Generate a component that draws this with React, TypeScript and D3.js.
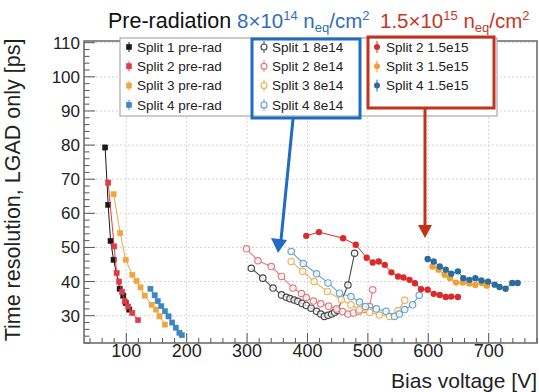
import * as d3 from 'd3'

// ---- data: [bias voltage V, time resolution ps] ----
const split1Pre = [[65, 79.3], [70, 62.5], [74, 51.9], [79, 46.4], [89, 37.9], [95, 35.9], [99, 33.7], [105, 31.8]]
const split2Pre = [[70, 69], [80, 50.3], [84, 42.5], [88, 40], [93, 37], [97.5, 34.2], [103, 32.7], [110, 30.8], [119.5, 28.7]]
const split3Pre = [[79, 65.6], [90, 54.2], [99, 46.4], [110, 42], [117, 40.2], [123.5, 38.3], [130.5, 35.9], [142, 33.2], [149, 31.8], [155, 29.8], [164, 27.4]]
const split4Pre = [[140, 37.9], [147, 36], [152, 34.3], [158, 32.8], [164, 31.3], [170, 29.8], [176, 28], [182, 26.5], [188, 25], [192, 24.3]]

const split1Mid = [[307, 43.9], [326, 41], [343, 38.1], [357, 36.1], [365, 35.4], [371, 35], [378, 34.6], [384, 34.2], [391, 33.6], [398, 33], [406, 32.2], [415, 31.3], [422, 30.5], [428, 29.8], [434, 30.1], [440, 30.5], [445, 31], [450, 31.5], [467, 39], [478, 48.3]]
const split2Mid = [[299, 49.6], [318, 46.1], [340, 44.4], [357, 41.5], [376, 38.1], [390, 36.5], [398, 35.3], [410, 34.3], [422, 33.5], [435, 32.8], [448, 32], [458, 31.2], [467, 30.5], [476, 30.8], [485, 31.3], [495, 31.8], [503, 32.7], [508, 37.6]]
const split3Mid = [[373, 45.9], [392, 43], [411, 40], [433, 37.1], [456, 34.7], [472, 33.2], [486, 31.8], [503, 31], [519, 30.2], [536, 29.8], [550, 31.5], [561, 34.5]]
const split4Mid = [[373, 48.8], [393, 45.3], [415, 42.3], [434, 39.6], [453, 36.6], [472, 35.6], [486, 34], [496, 32.7], [514, 32], [530, 31.3], [544, 29.8], [552, 30.5], [561, 31.8], [574, 33.2], [585, 36]]

const split2High = [[398, 53.4], [419, 54.5], [459, 52.7], [480, 50.8], [498, 47], [508, 45.6], [518, 45.9], [528, 44.9], [539, 42.7], [550, 41.5], [559, 41.2], [569, 40.5], [578, 39.5], [588, 37.8], [599, 37.6], [609, 36.4], [619, 36.1], [629, 35.5], [638, 35.6], [649, 35.5]]
const split3High = [[607, 44.4], [617, 43.5], [627, 42], [636, 41], [646, 39.7], [657, 39.7], [668, 39.4], [678, 39], [689, 39.6], [697, 38.8]]
const split4High = [[599, 46.6], [609, 45.9], [619, 44.4], [629, 43.5], [638, 42.3], [649, 43], [658, 41], [668, 40.5], [678, 41], [688, 40.3], [699, 40], [710, 39.1], [718, 38.4], [728, 37.9], [739, 39.6], [748, 39.6]]

const xTicks = [100, 200, 300, 400, 500, 600, 700]
const yTicks = [30, 40, 50, 60, 70, 80, 90, 100, 110]

const preLabels = ['Split 1 pre-rad', 'Split 2 pre-rad', 'Split 3 pre-rad', 'Split 4 pre-rad']
const midLabels = ['Split 1 8e14', 'Split 2 8e14', 'Split 3 8e14', 'Split 4 8e14']
const highLabels = ['Split 2 1.5e15', 'Split 3 1.5e15', 'Split 4 1.5e15']

const preColors = ['#1a1a1a', '#e23b44', '#f0a53e', '#3a86c2']
const midColors = ['#4a4a4a', '#e07c80', '#eab45e', '#6da6cf']
const highColors = ['#dc2a2a', '#f0a030', '#2b6c9f']

const width = 539
const height = 392
const font = '"Liberation Sans", Arial, Helvetica, sans-serif'

const xScale = d3.scaleLinear().domain([30, 780]).range([84, 537])
const yScale = d3.scaleLinear().domain([22, 110.5]).range([343, 41])

const line = d3
  .line<number[]>()
  .x((d) => xScale(d[0]))
  .y((d) => yScale(d[1]))

const preSeries = [split1Pre, split2Pre, split3Pre, split4Pre]
const midSeries = [split1Mid, split2Mid, split3Mid, split4Mid]
const highSeries = [split2High, split3High, split4High]

const Square = ({ x, y, c }: { x: number; y: number; c: string }) => (
  <rect x={x - 2.6} y={y - 2.6} width={5.2} height={5.2} fill={c} stroke={c} strokeWidth={0.5} />
)

// "n_eq/cm^2" style title piece
const Fluence = ({ x, mant, exp, color }: { x: number; mant: string; exp: string; color: string }) => (
  <text x={x} y={28} fontSize={20.5} fill={color}>
    {mant}×10<tspan fontSize={13} dy={-8}>{exp}</tspan>
    <tspan dy={8}> n</tspan>
    <tspan fontSize={13} dy={4}>eq</tspan>
    <tspan dy={-4}>/cm</tspan>
    <tspan fontSize={13} dy={-8}>2</tspan>
  </text>
)

const App = () => {
  const [x0, x1] = xScale.range()
  const [y0, y1] = yScale.range()
  const xMinor = d3.range(40, 781, 20)
  const yMinor = d3.range(22, 111, 2)

  return (
    <svg width={width} height={height} style={{ position: 'absolute', left: 0, top: 0, background: '#fff' }} fontFamily={font}>
      {/* title */}
      <text x={108} y={28} fontSize={21.5} fill="#111">Pre-radiation</text>
      <Fluence x={237} mant="8" exp="14" color="#2f6fb8" />
      <Fluence x={380} mant="1.5" exp="15" color="#c8371f" />

      {/* grid */}
      {xTicks.map((t) => (
        <line key={'gx' + t} x1={xScale(t)} x2={xScale(t)} y1={y0} y2={y1} stroke="#c8c8c8" strokeDasharray="1.5,2.5" />
      ))}
      {yTicks.map((t) => (
        <line key={'gy' + t} x1={x0} x2={x1} y1={yScale(t)} y2={yScale(t)} stroke="#c8c8c8" strokeDasharray="1.5,2.5" />
      ))}

      {/* ticks */}
      {xMinor.map((t) => (
        <line key={'mx' + t} x1={xScale(t)} x2={xScale(t)} y1={y0} y2={y0 - (t % 100 === 0 ? 10 : 5)} stroke="#555" />
      ))}
      {yMinor.map((t) => (
        <line key={'my' + t} x1={x0} x2={x0 + (t % 10 === 0 ? 11 : 5.5)} y1={yScale(t)} y2={yScale(t)} stroke="#555" />
      ))}
      {xTicks.map((t) => (
        <text key={'lx' + t} x={xScale(t)} y={357} fontSize={18} textAnchor="middle" fill="#222">{t}</text>
      ))}
      {yTicks.map((t) => (
        <text key={'ly' + t} x={80} y={yScale(t) + 6} fontSize={17} textAnchor="end" fill="#222">{t}</text>
      ))}
      <text x={537} y={388} fontSize={21} textAnchor="end" fill="#222">Bias voltage [V]</text>
      <text transform="translate(20,190) rotate(-90)" fontSize={21.5} textAnchor="middle" fill="#222">
        Time resolution, LGAD only [ps]
      </text>

      {/* pre-rad */}
      {preSeries.map((s, i) => (
        <g key={'pre' + i}>
          <path d={line(s) ?? ''} fill="none" stroke={preColors[i]} strokeWidth={1} />
          {s.map((d, j) => (
            <Square key={j} x={xScale(d[0])} y={yScale(d[1])} c={preColors[i]} />
          ))}
        </g>
      ))}

      {/* 8e14 */}
      {midSeries.map((s, i) => (
        <g key={'mid' + i}>
          <path d={line(s) ?? ''} fill="none" stroke={midColors[i]} strokeWidth={1.1} />
          {s.map((d, j) => (
            <circle key={j} cx={xScale(d[0])} cy={yScale(d[1])} r={3.2} fill="#fff" fillOpacity={0.75} stroke={midColors[i]} strokeWidth={1.2} />
          ))}
        </g>
      ))}

      {/* 1.5e15 */}
      {highSeries.map((s, i) => (
        <g key={'high' + i}>
          <path d={line(s) ?? ''} fill="none" stroke={highColors[i]} strokeWidth={1} />
          {s.map((d, j) => (
            <circle key={j} cx={xScale(d[0])} cy={yScale(d[1])} r={3.2} fill={highColors[i]} />
          ))}
        </g>
      ))}

      {/* frame */}
      <rect x={x0} y={y1} width={x1 - x0} height={y0 - y1} fill="none" stroke="#666" strokeWidth={1.5} />

      {/* legend */}
      <rect x={120} y={38} width={377} height={78} fill="#fff" stroke="#999" strokeWidth={1} />
      {preLabels.map((l, i) => {
        const y = 47 + i * 19.3
        return (
          <g key={l}>
            <line x1={129} x2={129} y1={y - 5} y2={y + 5} stroke={preColors[i]} />
            <Square x={129} y={y} c={preColors[i]} />
            <text x={137} y={y + 4.8} fontSize={13.5} fill="#222">{l}</text>
          </g>
        )
      })}
      {midLabels.map((l, i) => {
        const y = 47 + i * 19.3
        return (
          <g key={l}>
            <line x1={264} x2={264} y1={y - 6} y2={y + 6} stroke={midColors[i]} />
            <circle cx={264} cy={y} r={3} fill="#fff" stroke={midColors[i]} strokeWidth={1.2} />
            <text x={272} y={y + 4.8} fontSize={13.5} fill="#222">{l}</text>
          </g>
        )
      })}
      {highLabels.map((l, i) => {
        const y = 47 + i * 19.3
        return (
          <g key={l}>
            <line x1={377} x2={377} y1={y - 6} y2={y + 6} stroke={highColors[i]} />
            <circle cx={377} cy={y} r={3} fill={highColors[i]} />
            <text x={386} y={y + 4.8} fontSize={13.5} fill="#222">{l}</text>
          </g>
        )
      })}
      <rect x={252} y={39} width={108} height={79} fill="none" stroke="#1f6cc0" strokeWidth={3} />
      <rect x={368} y={37} width={126} height={71} fill="none" stroke="#c4321a" strokeWidth={3} />

      {/* arrows */}
      <line x1={293} y1={119} x2={281} y2={240} stroke="#1f6cc0" strokeWidth={3} />
      <polygon points="271,238 287,240 278,253" fill="#1f6cc0" />
      <line x1={425} y1={108} x2={425} y2={226} stroke="#c4321a" strokeWidth={3} />
      <polygon points="418,225 432,225 425,238" fill="#c4321a" />
    </svg>
  )
}

export default App
